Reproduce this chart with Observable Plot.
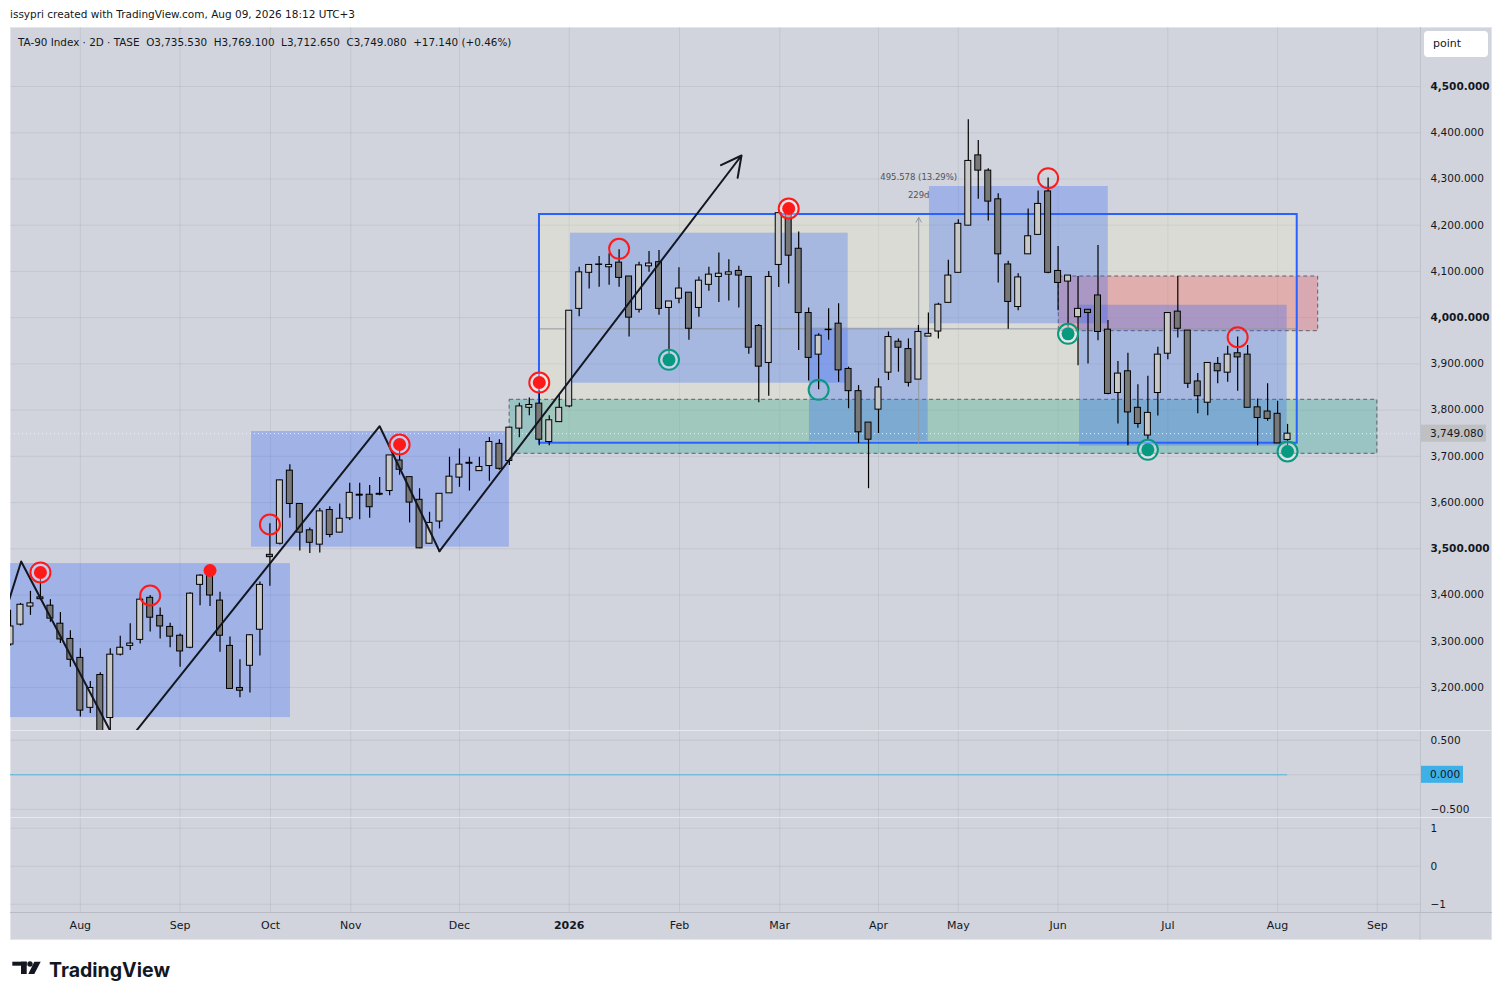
<!DOCTYPE html>
<html><head><meta charset="utf-8">
<script src="https://cdn.jsdelivr.net/npm/d3@7"></script>
<script src="https://cdn.jsdelivr.net/npm/@observablehq/plot@0.6"></script>
<style>
body{margin:0;background:#fff;}
#root{position:relative;width:1502px;height:1000px;overflow:hidden;font-family:"DejaVu Sans",sans-serif;color:#131722;}
.abs{position:absolute;}
</style></head><body><div id="root">
<div class="abs" style="left:10px;top:7px;font-size:10.5px;line-height:14px;white-space:pre;">issypri created with TradingView.com, Aug 09, 2026 18:12 UTC+3</div>
<div class="abs" id="frame" style="left:10px;top:27px;width:1482px;height:913px;background:#d1d4dc;box-sizing:border-box;border:1px solid #e3e5ea;"></div>
<div class="abs" id="main" style="left:10px;top:27px;"></div>
<div class="abs" id="pane2" style="left:10px;top:730px;"></div>
<div class="abs" id="pane3" style="left:10px;top:818px;"></div>
<div class="abs" style="left:10px;top:730px;width:1482px;height:1px;background:#e6e8ee;"></div>
<div class="abs" style="left:10px;top:817px;width:1482px;height:1px;background:#e6e8ee;"></div>
<div class="abs" style="left:10px;top:912px;width:1482px;height:1px;background:#b8bbc3;"></div>
<div class="abs" style="left:18px;top:35px;font-size:10.4px;line-height:14px;white-space:pre;">TA-90 Index · 2D · TASE  O3,735.530  H3,769.100  L3,712.650  C3,749.080  +17.140 (+0.46%)</div>
<div class="abs" style="left:1424px;top:31px;width:64px;height:26px;background:#fff;border-radius:4px;font-size:11px;line-height:26px;box-sizing:border-box;padding-left:9px;">point</div>
<svg class="abs" style="left:12px;top:958px;" width="170" height="26">
  <rect x="0.3" y="3.7" width="14.4" height="4" fill="#131722"/>
  <rect x="9" y="3.7" width="5.7" height="12.3" fill="#131722"/>
  <circle cx="18" cy="6" r="2.7" fill="#131722"/>
  <polygon points="22.3,3.7 28.7,3.7 22.3,16 16.3,16" fill="#131722"/>
  <text x="37" y="19" font-family="Inter, Roboto, sans-serif" font-weight="700" font-size="19.5" fill="#131722" textLength="121" lengthAdjust="spacingAndGlyphs">TradingView</text>
</svg>
</div>
<script>
// ---- candle data (2D bars, index 0 = leftmost partially visible bar) ----
const opens = [3293,3336,3375,3395,3377,3338,3305,3264,3156,3227,3134,3271,3290,3303,3394,3355,3331,3312,3286,3422,3446,3388,3290,3199,3247,3325,3487,3511,3669,3597,3540,3509,3584,3535,3566,3617,3617,3619,3625,3691,3655,3606,3511,3559,3620,3654,3686,3668,3679,3727,3690,3760,3805,3814,3731,3774,3808,4019,4097,4114,4109,4119,4089,4017,4111,4120,4021,4041,4054,4021,4071,4088,4093,4101,4088,3982,3902,4114,4225,4149,4010,3920,3973,3987,3889,3841,3773,3801,3881,3948,3932,3866,3959,3970,4032,4097,4199,4351,4318,4256,4115,4023,4137,4179,4273,4101,4078,4001,4017,4048,3974,3837,3884,3805,3745,3837,3922,4013,3972,3862,3816,3900,3881,3923,3920,3806,3797,3792,3735.53];
const highs = [3367,3382,3408,3434,3390,3362,3323,3284,3213,3232,3284,3311,3338,3395,3399,3372,3339,3316,3405,3444,3455,3406,3309,3260,3314,3428,3554,3649,3682,3598,3545,3587,3591,3597,3642,3642,3637,3654,3702,3713,3655,3630,3579,3619,3698,3716,3698,3698,3741,3736,3762,3815,3826,3842,3788,3832,4015,4109,4114,4132,4138,4147,4089,4120,4143,4145,4035,4108,4054,4088,4109,4140,4125,4111,4088,3985,4100,4226,4236,4185,4021,3965,4019,4030,3893,3853,3773,3868,3969,3954,3954,3983,4010,4031,4124,4212,4428,4383,4322,4268,4122,4095,4235,4274,4302,4154,4091,4089,4017,4156,3994,3905,3923,3855,3873,3936,4010,4089,3972,3879,3902,3914,3938,3958,3940,3824,3857,3819,3769.1];
const lows = [3290,3333,3356,3388,3341,3295,3244,3136,3144,3050,3100,3268,3280,3294,3320,3305,3286,3244,3284,3377,3375,3276,3197,3178,3188,3268,3419,3508,3566,3495,3490,3491,3524,3535,3561,3563,3566,3615,3615,3659,3556,3500,3511,3543,3620,3633,3625,3668,3646,3670,3680,3740,3788,3723,3723,3774,3805,4002,4062,4066,4070,4066,3958,4010,4098,4005,3922,4030,3951,4001,4057,4033,4036,4021,3921,3816,3830,4065,4073,3929,3863,3844,3951,3860,3803,3728,3630,3749,3864,3882,3850,3866,3959,3954,4032,4097,4199,4256,4209,4075,3975,4015,4137,4179,4095,4015,3979,3896,3900,3950,3833,3770,3723,3761,3734,3787,3909,3956,3847,3792,3788,3857,3860,3841,3805,3723,3776,3728,3712.65];
const closes = [3332,3379,3382,3391,3349,3304,3260,3150,3199,3080,3271,3286,3295,3390,3351,3332,3310,3278,3403,3442,3399,3312,3197,3193,3313,3422,3482,3648,3597,3535,3513,3581,3530,3565,3621,3615,3590,3617,3702,3671,3600,3501,3556,3619,3656,3682,3684,3677,3731,3673,3762,3808,3811,3736,3778,3805,4015,4098,4114,4115,4114,4086,4000,4113,4117,4019,4035,4063,3976,4080,4093,4095,4098,4091,3935,3894,4088,4226,4134,4010,3913,3961,3974,3886,3841,3752,3736,3849,3958,3935,3859,3969,3965,4028,4091,4203,4339,4318,4251,4137,4034,4087,4176,4246,4097,4075,4091,4019,4010,3969,3835,3879,3795,3770,3794,3920,4010,3976,3857,3830,3902,3884,3920,3914,3805,3783,3781,3728,3749.08];

// ---- axes ----
const priceTicks = [3200,3300,3400,3500,3600,3700,3800,3900,4000,4100,4200,4300,4400,4500];
const boldPrices = [3500,4000,4500];
const timeTickBars = [7,17,26.06,34.1,45,56,67.05,77.1,87,95,105,116,127,137];
const timeTickLabels = ["Aug","Sep","Oct","Nov","Dec","2026","Feb","Mar","Apr","May","Jun","Jul","Aug","Sep"];
const pane2Ticks = [0.5,-0.5];
const pane2Grid = [0.5,0,-0.5];
const pane3Ticks = [1,0,-1];

// ---- drawings (bar index / price units) ----
const boxStart  = [-2, 24.16, 56.13, 80.08, 92.11, 107.15];
const boxEnd    = [28.06, 50.0, 83.96, 91.98, 110.03, 127.96];
const boxTop    = [3468, 3753.7, 4182.7, 3977.2, 4283.7, 4026.8];
const boxBottom = [3135, 3503.5, 3858.2, 3732.8, 3986.7, 3722];
const rangeBox  = {start: 53.02, end: 128.97, top: 4223.1, bottom: 3728.4};
const greenZone = {start: 50.03, end: 137.0, top: 3822.3, bottom: 3705.5};
const redZone   = {start: 105.07, end: 131.07, top: 4089, bottom: 3970.7};
const zigzagBars   = [-1, 1.07, 11.03, 37.0, 43.0];
const zigzagPrices = [3330, 3472.5, 3063.7, 3765.2, 3494.8];
const arrowEnd = {bar: 73.27, price: 4350.7};
const measureBar = 91.03;
const measureText = ["495.578 (13.29%)", "229d"];
const redRingBars = [3,39,53,78],  redRingPrices = [3448.8,3725.6,3859.7,4236.1];
const redDotBars = [20],           redDotPrices = [3453.1];
const redHollowBars = [14,26,61,104,123], redHollowPrices = [3399,3552.6,4148.9,4301.6,3957.7];
const tealRingBars = [66,106,114,128], tealRingPrices = [3908.8,3965,3714.2,3710.5];
const tealHollowBars = [81], tealHollowPrices = [3843.9];
const oscStartBar = 0, oscEndBar = 128, oscValue = 0;

// ---- build tables ----
const candles = opens.map((o,i)=>({i, open:o, high:highs[i], low:lows[i], close:closes[i]}));
const boxes = boxStart.map((s,k)=>({x1:s, x2:boxEnd[k], y1:boxTop[k], y2:boxBottom[k]}));
const zig = zigzagBars.map((b,k)=>({x:b, y:zigzagPrices[k]}));
const pts = (bars, prices) => bars.map((b,k)=>({x:b, y:prices[k]}));
const lastClose = closes[closes.length-1];

const W = 1482, MR = 72;
const barPx = 9.977;
const xMax = (W - MR) / barPx;
const xDomain = [0, xMax];
const RED = "#ff1a1a", TEAL = "#089981";
const AX = 10.5;
const gridStyle = {stroke:"#2a2e39", strokeOpacity:0.08};
const font = {fontFamily:"DejaVu Sans", fontSize:"10.5px", background:"transparent", color:"#131722", overflow:"visible"};
const labelOf = new Map(timeTickBars.map((t,k)=>[t, timeTickLabels[k]]));

const main = Plot.plot({
  width: W, height: 703, marginLeft: 0, marginRight: MR, marginTop: 0, marginBottom: 0,
  style: font,
  x: {domain: xDomain, axis: null},
  y: {domain: [3107, 4627.6], axis: null},
  marks: [
    Plot.gridY(priceTicks, gridStyle),
    Plot.gridX(timeTickBars, gridStyle),
    Plot.rect([rangeBox], {x1:"start", x2:"end", y1:"top", y2:"bottom", fill:"#e8e8c4", fillOpacity:0.32}),
    Plot.rect([greenZone], {x1:"start", x2:"end", y1:"top", y2:"bottom", fill:TEAL, fillOpacity:0.27, stroke:"#5d606b", strokeDasharray:"4,3", strokeWidth:1, clip:true}),
    Plot.rect([redZone], {x1:"start", x2:"end", y1:"top", y2:"bottom", fill:"#f23645", fillOpacity:0.27, stroke:"#5d606b", strokeDasharray:"4,3", strokeWidth:1}),
    Plot.rect(boxes, {x1:"x1", x2:"x2", y1:"y1", y2:"y2", fill:"#2962ff", fillOpacity:0.29, clip:true}),
    Plot.ruleY([(rangeBox.top + rangeBox.bottom)/2], {x1:rangeBox.start, x2:rangeBox.end, stroke:"#9598a1", strokeWidth:1}),
    Plot.rect([rangeBox], {x1:"start", x2:"end", y1:"top", y2:"bottom", fill:"none", stroke:"#2962ff", strokeWidth:2}),
    Plot.ruleY([lastClose], {stroke:"#f0f2f6", strokeDasharray:"1,3", strokeWidth:1}),
    Plot.arrow([rangeBox], {x1:()=>measureBar, x2:()=>measureBar, y1:"bottom", y2:"top", stroke:"#9598a1", strokeWidth:1, headLength:8, insetEnd:3}),
    Plot.text([rangeBox], {x:()=>measureBar, y:"top", text:()=>measureText[0], dy:-37, fontSize:8.5, fill:"#50535e"}),
    Plot.text([rangeBox], {x:()=>measureBar, y:"top", text:()=>measureText[1], dy:-19, fontSize:8.5, fill:"#50535e"}),
    Plot.ruleX(candles, {x:"i", y1:"low", y2:"high", stroke:"#000", strokeWidth:1.2, clip:true}),
    Plot.rect(candles, {x1:d=>d.i-0.3, x2:d=>d.i+0.3, y1:"open", y2:"close",
      fill:d=>d.close>=d.open ? "#c8c8c8" : "#787878", stroke:"#000", strokeWidth:1, clip:true}),
    Plot.line(zig, {x:"x", y:"y", stroke:"#131722", strokeWidth:2, clip:true}),
    Plot.arrow([{x1:zig[zig.length-1].x, y1:zig[zig.length-1].y, x2:arrowEnd.bar, y2:arrowEnd.price}],
      {x1:"x1", y1:"y1", x2:"x2", y2:"y2", stroke:"#131722", strokeWidth:2, headLength:17, headAngle:55}),
    Plot.dot(pts(redRingBars, redRingPrices), {x:"x", y:"y", r:10, stroke:RED, strokeWidth:2, fill:"#fff", fillOpacity:0.35}),
    Plot.dot(pts(redRingBars, redRingPrices), {x:"x", y:"y", r:6.5, fill:RED}),
    Plot.dot(pts(redDotBars, redDotPrices), {x:"x", y:"y", r:6.5, fill:RED}),
    Plot.dot(pts(redHollowBars, redHollowPrices), {x:"x", y:"y", r:10, stroke:RED, strokeWidth:2, fill:"none"}),
    Plot.dot(pts(tealRingBars, tealRingPrices), {x:"x", y:"y", r:10, stroke:TEAL, strokeWidth:2, fill:"#fff", fillOpacity:0.35}),
    Plot.dot(pts(tealRingBars, tealRingPrices), {x:"x", y:"y", r:6.5, fill:TEAL}),
    Plot.dot(pts(tealHollowBars, tealHollowPrices), {x:"x", y:"y", r:10, stroke:TEAL, strokeWidth:2, fill:"none"}),
    Plot.ruleX([xMax], {stroke:"#bfc2ca"}),
    Plot.axisY(priceTicks, {anchor:"right", tickSize:0, tickPadding:10, tickFormat:d3.format(",.3f"), label:null, fill:"#131722", fontSize:AX})
  ]
});
document.getElementById("main").appendChild(main);

const pane2 = Plot.plot({
  width: W, height: 88, marginLeft: 0, marginRight: MR, marginTop: 0, marginBottom: 0,
  style: font,
  x: {domain: xDomain, axis: null},
  y: {domain: [-0.633, 0.642], axis: null},
  marks: [
    Plot.gridY(pane2Grid, gridStyle),
    Plot.gridX(timeTickBars, gridStyle),
    Plot.ruleY([oscValue], {x1:oscStartBar, x2:oscEndBar, stroke:"#55b4e4", strokeWidth:1}),
    Plot.ruleX([xMax], {stroke:"#bfc2ca"}),
    Plot.axisY(pane2Ticks, {anchor:"right", tickSize:0, tickPadding:10, tickFormat:d3.format(".3f"), label:null, fill:"#131722", fontSize:AX})
  ]
});
document.getElementById("pane2").appendChild(pane2);

const pane3 = Plot.plot({
  width: W, height: 122, marginLeft: 0, marginRight: MR, marginTop: 0, marginBottom: 28,
  style: font,
  x: {domain: xDomain, axis: null},
  y: {domain: [-1.218, 1.255], axis: null},
  marks: [
    Plot.gridY(pane3Ticks, gridStyle),
    Plot.gridX(timeTickBars, gridStyle),
    Plot.ruleX([xMax], {stroke:"#bfc2ca", y1:-1.218, y2:1.255}),
    Plot.axisY(pane3Ticks, {anchor:"right", tickSize:0, tickPadding:10, tickFormat:d3.format("d"), label:null, fill:"#131722", fontSize:AX}),
    Plot.axisX(timeTickBars, {anchor:"bottom", tickSize:0, tickPadding:9, tickFormat:d=>labelOf.get(d), label:null, fill:"#131722", fontSize:11})
  ]
});
document.getElementById("pane3").appendChild(pane3);

// value boxes on the price axes, placed with the charts' own scales
function axisBox(chart, value, text, bg, w) {
  const y = chart.scale("y").apply(value);
  const x = chart.scale("x").apply(xMax) + 1;
  const g = d3.select(chart).append("g");
  g.append("rect").attr("x", x).attr("y", y - 8.5).attr("width", w).attr("height", 17).attr("fill", bg);
  g.append("text").attr("x", x + 9).attr("y", y).attr("dy", "0.35em").attr("font-size", AX)
    .attr("text-anchor", "start").attr("font-family", "DejaVu Sans").attr("fill", "#131722").text(text);
}
axisBox(main, lastClose, d3.format(",.3f")(lastClose), "#bfc0c2", 65);
axisBox(pane2, oscValue, d3.format(".3f")(oscValue), "#3eb0e8", 42);

const boldSet = new Set(boldPrices.map(d3.format(",.3f")).concat(["2026"]));
d3.selectAll("#main text, #pane3 text").filter(function(){ return boldSet.has(this.textContent); }).attr("font-weight", "bold");
// separator line of the price-axis column across the time axis row
d3.select(pane3).append("line").attr("x1", pane3.scale("x").apply(xMax)).attr("x2", pane3.scale("x").apply(xMax))
  .attr("y1", 94).attr("y2", 122).attr("stroke", "#bfc2ca");
</script>
</body></html>
